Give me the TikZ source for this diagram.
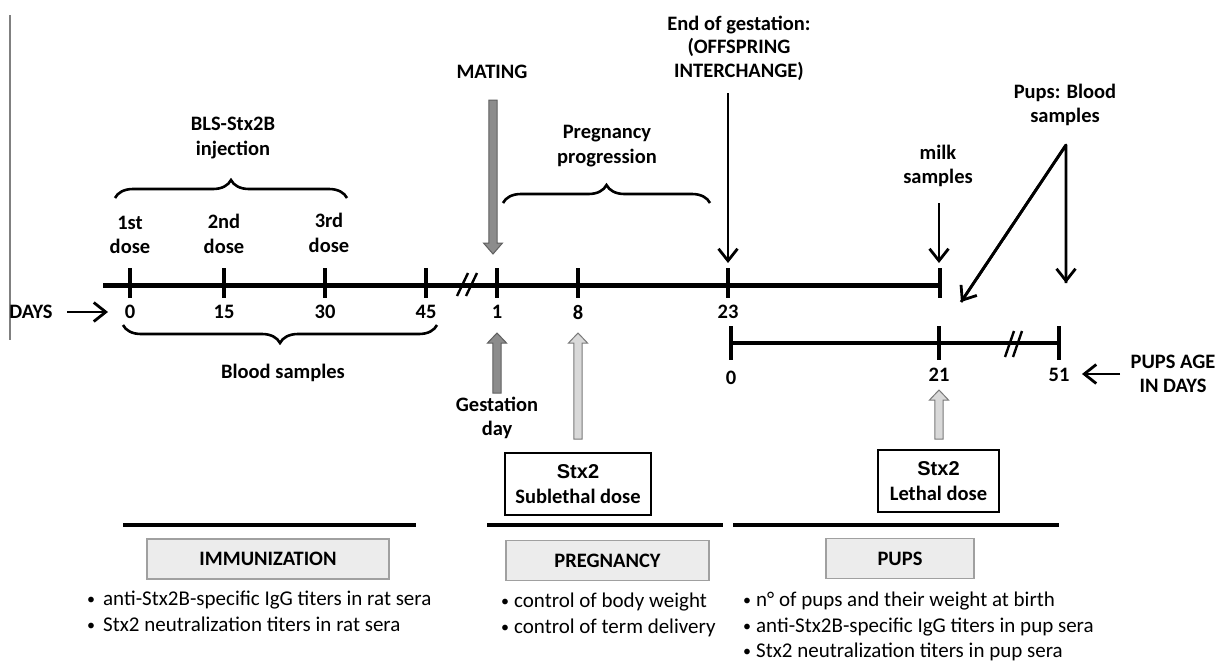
\documentclass[tikz,border=0pt]{standalone}
\usepackage{fontspec}
\setmainfont{Carlito}
\newfontfamily\arialfont{Liberation Sans}
\usetikzlibrary{arrows.meta,decorations.pathreplacing}
\definecolor{darkgr}{HTML}{8C8C8C}
\definecolor{darkgrline}{HTML}{606060}
\definecolor{lightgr}{HTML}{D9D9D9}
\definecolor{lightgrline}{HTML}{7A7A7A}
\definecolor{boxgr}{HTML}{ECECEC}
\definecolor{boxgrline}{HTML}{A0A0A0}
\newcommand\fatarr[5]{%
  \filldraw[#5] ({#1-4.2},{#2}) -- ({#1+4.2},{#2}) -- ({#1+4.2},{#3}) -- ({#1+9.5},{#3}) -- ({#1},{#4}) -- ({#1-9.5},{#3}) -- ({#1-4.2},{#3}) -- cycle;}
\newcommand\bul{{\fontsize{16}{16}\selectfont\raisebox{1pt}{•}}}
\begin{document}
\begin{tikzpicture}[x=1pt,y=1pt,
  lbl/.style={font=\bfseries\fontsize{20.5}{24.5}\selectfont, align=center, inner sep=0pt},
  num/.style={font=\bfseries\fontsize{20.5}{24.5}\selectfont, inner sep=0pt},
  bul/.style={font=\fontsize{21}{25.5}\selectfont, align=left, inner sep=0pt, anchor=north west},
  arr/.style={line width=2.8pt, -{Straight Barb[length=12pt,width=19pt,line width=2.8pt]}},
  mainline/.style={line width=5pt},
  subline/.style={line width=4pt},
  tickmark/.style={line width=3.6pt},
  slash/.style={line width=2.4pt},
  brc/.style={line width=2.6pt, decorate, decoration={brace, amplitude=18pt}},
  darkfat/.style={fill=darkgr, draw=darkgrline, line width=1pt},
  lightfat/.style={fill=lightgr, draw=lightgrline, line width=1pt},
  stxbox/.style={draw=black, line width=1.6pt, align=center, inner sep=0pt, minimum height=62pt, font=\bfseries\fontsize{20.5}{24.5}\selectfont},
  greybox/.style={draw=boxgrline, fill=boxgr, line width=1.6pt, inner sep=0pt, minimum height=40pt, font=\bfseries\fontsize{20.5}{24.5}\selectfont},
  secline/.style={line width=4.5pt}
]
\useasboundingbox (0,0) rectangle (1226,-665);
\fill[white] (0,0) rectangle (1226,-665);

% left grey margin line
\draw[gray, line width=1.5pt] (10,-15) -- (10,-340);

% ---------- main timeline ----------
\coordinate (mls) at (103,-285);
\coordinate (mle) at (940,-285);
\draw[mainline] (mls) -- (mle);
\foreach \x/\n in {130/0,224/15,325/30,426/45,497/1,578/8,728/23,940/e}{
  \coordinate (t\n) at (\x,-285);
  \draw[tickmark] ([yshift=17pt]t\n) -- ([yshift=-13pt]t\n);
}
\foreach \x/\n in {130/0,224/15,325/30,426/45,497/1,578/8,728/23}{
  \node[num] (lab\n) at (\x,-312) {\n};
}
\draw[slash] (457,-296) -- (468,-273);
\draw[slash] (466,-296) -- (477,-273);

\node[num] (days) at (31,-312) {DAYS};
\coordinate (daysst) at (67,-312);
\coordinate (daysarr) at (108,-312);
\draw[arr] (daysst) -- (daysarr);

% dose labels
\node[lbl] (d1) at (130,-235) {1st\\dose};
\node[lbl] (d2) at (224,-234) {2nd\\dose};
\node[lbl] (d3) at (329,-233) {3rd\\dose};

% injection brace
\coordinate (ib1) at (115,-198);
\coordinate (ib2) at (347,-198);
\draw[brc] (ib1) -- (ib2);
\node[lbl] (bls) at (233,-138) {BLS-Stx2B\\injection};

% blood samples brace
\coordinate (bb1) at (437,-325);
\coordinate (bb2) at (123,-325);
\draw[brc] (bb1) -- (bb2);
\node[lbl] (blood) at (283,-373) {Blood samples};

% mating
\node[lbl] (mating) at (492,-72) {MATING};
\fatarr{493}{-100}{-243}{-254}{darkfat}

% pregnancy progression
\coordinate (pb1) at (503,-203);
\coordinate (pb2) at (710,-203);
\draw[brc] (pb1) -- (pb2);
\node[lbl] (preg) at (607,-146) {Pregnancy\\progression};

% end of gestation
\node[lbl, font=\bfseries\fontsize{20.5}{23.5}\selectfont] (eog) at (739,-48) {End of gestation:\\(OFFSPRING\\INTERCHANGE)};
\coordinate (eogs) at (728,-93);
\coordinate (eoge) at (728,-263);
\draw[arr] (eogs) -- (eoge);

% milk samples
\node[lbl] (milk) at (938,-166) {milk\\samples};
\coordinate (milks) at (939,-203);
\coordinate (milke) at (939,-263);
\draw[arr] (milks) -- (milke);

% pups blood samples
\node[lbl] (pupsb) at (1065,-105) {Pups: Blood\\samples};
\coordinate (apex) at (1066,-145);
\coordinate (pbA) at (961,-302);
\coordinate (pbB) at (1066,-283);
\draw[line width=2.8pt, line join=round] (pbA) -- (apex) -- (pbB);
\draw[arr] (apex) -- (pbA);
\draw[arr] (apex) -- (pbB);

% ---------- pups timeline ----------
\coordinate (sls) at (731,-343);
\coordinate (sle) at (1059,-343);
\draw[subline] (sls) -- (sle);
\foreach \x/\n in {731/a,939/b,1059/c}{
  \coordinate (s\n) at (\x,-343);
  \draw[tickmark] ([yshift=17pt]s\n) -- ([yshift=-17pt]s\n);
}
\draw[slash] (1005,-357) -- (1014,-331);
\draw[slash] (1013,-357) -- (1022,-331);
\node[num] (p0) at (731,-378) {0};
\node[num] (p21) at (939,-375) {21};
\node[num] (p51) at (1059,-375) {51};
\node[lbl] (pupsage) at (1173,-374) {PUPS AGE\\IN DAYS};
\coordinate (pas) at (1120,-374);
\coordinate (pae) at (1082,-374);
\draw[arr] (pas) -- (pae);

% gestation day arrow
\fatarr{497}{-393}{-343}{-333}{darkfat}
\node[lbl] (gest) at (497,-418) {Gestation\\day};

% sublethal arrow and box
\fatarr{578}{-439}{-343}{-333}{lightfat}
\node[stxbox, minimum width=146pt] (subl) at (578,-484) {{\arialfont\fontsize{20}{24.5}\selectfont Stx2}\\Sublethal dose};

% lethal arrow and box
\fatarr{939}{-439}{-400}{-390}{lightfat}
\node[stxbox, minimum width=121pt] (leth) at (938.5,-481) {{\arialfont\fontsize{20}{24.5}\selectfont Stx2}\\Lethal dose};

% ---------- bottom sections ----------
\draw[secline] (123,-525) -- (416,-525);
\draw[secline] (487,-525) -- (723,-525);
\draw[secline] (733,-525) -- (1059,-525);

\node[greybox, minimum width=242pt] (immu) at (268,-559) {IMMUNIZATION};
\node[greybox, minimum width=203pt] (pregbox) at (607.5,-560.5) {PREGNANCY};
\node[greybox, minimum width=148pt] (pupsbox) at (900,-558.5) {PUPS};

\node[bul] (b1) at (87,-591) {\bul\hspace{8pt}anti-Stx2B-specific IgG titers in rat sera\\\bul\hspace{8pt}Stx2 neutralization titers in rat sera};
\node[bul] (b2) at (501,-593) {\bul\hspace{5pt}control of body weight\\\bul\hspace{5pt}control of term delivery};
\node[bul] (b3) at (743,-592) {\bul\hspace{5pt}n° of pups and their weight at birth\\\bul\hspace{5pt}anti-Stx2B-specific IgG titers in pup sera\\\bul\hspace{5pt}Stx2 neutralization titers in pup sera};

\end{tikzpicture}
\end{document}
